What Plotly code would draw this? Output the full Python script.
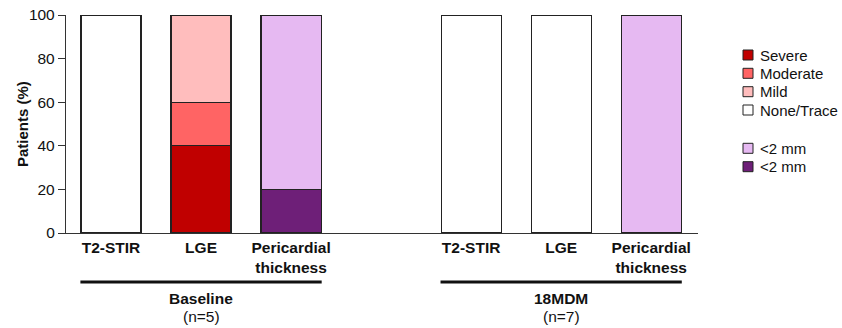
import plotly.graph_objects as go

# ---- data ----
positions = [0, 1, 2, 4, 5, 6]
tick_labels = ["T2-STIR", "LGE", "Pericardial<br>thickness",
               "T2-STIR", "LGE", "Pericardial<br>thickness"]
y_ticks = [0, 20, 40, 60, 80, 100]
y_title = "Patients (%)"
groups = ["Baseline", "18MDM"]
group_n = ["(n=5)", "(n=7)"]
group_centers = [1, 5]

# stacked series (bottom to top), values per position (None = no bar)
severe = [None, 40, None, None, None, None]
moderate = [None, 20, None, None, None, None]
mild = [None, 40, None, None, None, None]
none_trace = [100, None, None, 100, 100, None]
thick_dark = [None, None, 20, None, None, None]
thick_light = [None, None, 80, None, None, 100]

series = [
    ("Severe", severe, "#c00000"),
    ("Moderate", moderate, "#ff6464"),
    ("Mild", mild, "#ffbdbd"),
    ("None/Trace", none_trace, "#ffffff"),
    ("<2 mm ", thick_dark, "#6e1f78"),
    ("<2 mm", thick_light, "#e6b9f2"),
]
legend_order = ["Severe", "Moderate", "Mild", "None/Trace", "<2 mm", "<2 mm "]

FONT = "Liberation Sans, Arial, sans-serif"
FS = 15.5

fig = go.Figure()
for name, vals, color in series:
    fig.add_trace(go.Bar(
        x=positions, y=vals, name=name, width=0.667,
        marker=dict(color=color, line=dict(color="#222222", width=1.2)),
        showlegend=False,
    ))

fig.update_layout(
    barmode="stack",
    width=842, height=328,
    margin=dict(l=66, r=144, t=15, b=95),
    paper_bgcolor="white", plot_bgcolor="white",
    font=dict(family=FONT, size=FS, color="#111111"),
    xaxis=dict(
        range=[-0.5, 6.52], tickmode="array", tickvals=positions,
        ticktext=["<b>%s</b>" % t for t in tick_labels],
        showline=True, linecolor="#333333", linewidth=1.3,
        ticks="", showgrid=False, zeroline=False, automargin=False,
        ticklabeloverflow="allow",
        tickfont=dict(size=FS, family=FONT, color="#111111"),
    ),
    yaxis=dict(
        range=[0, 100], tickvals=y_ticks,
        showline=True, linecolor="#333333", linewidth=1.3,
        ticks="outside", ticklen=7, tickcolor="#333333", tickwidth=1.3,
        showgrid=False, zeroline=False, automargin=False,
        ticklabeloverflow="allow",
        tickfont=dict(size=FS, family=FONT, color="#111111"),
    ),
)

# pixel -> paper coordinate helpers
plot_left, plot_w = 66, 632
plot_top, plot_h = 15, 218
def px_to_paper(px, py):
    return (px - plot_left) / plot_w, (plot_top + plot_h - py) / plot_h

# y axis title
tx, ty = px_to_paper(22, 124)
fig.add_annotation(x=tx, y=ty, xref="paper", yref="paper", text="<b>%s</b>" % y_title,
                   textangle=-90, showarrow=False, xanchor="center", yanchor="middle",
                   font=dict(size=15, family=FONT, color="#111111"))

# group brackets and labels
for gc, g, n in zip(group_centers, groups, group_n):
    _, ly = px_to_paper(0, 282)
    fig.add_shape(type="line", xref="x", yref="paper",
                  x0=gc - 1.34, x1=gc + 1.34, y0=ly, y1=ly,
                  line=dict(color="#111111", width=3))
    _, gy = px_to_paper(0, 298)
    fig.add_annotation(x=gc, xref="x", y=gy, yref="paper", text="<b>%s</b>" % g,
                       showarrow=False, yanchor="middle",
                       font=dict(size=FS, family=FONT, color="#111111"))
    _, ny = px_to_paper(0, 316)
    fig.add_annotation(x=gc, xref="x", y=ny, yref="paper", text=n,
                       showarrow=False, yanchor="middle",
                       font=dict(size=FS, family=FONT, color="#111111"))

# manual legend
legend_y = {"Severe": 55, "Moderate": 73.3, "Mild": 91.7, "None/Trace": 110,
            "<2 mm": 148.3, "<2 mm ": 166.7}
color_of = {name: color for name, _, color in series}
for name in legend_order:
    py = legend_y[name]
    x0, y0 = px_to_paper(743, py + 5)
    x1, y1 = px_to_paper(753, py - 5)
    fig.add_shape(type="rect", xref="paper", yref="paper", x0=x0, x1=x1, y0=y0, y1=y1,
                  fillcolor=color_of[name], line=dict(color="#222222", width=1))
    lx, lyy = px_to_paper(758, py)
    fig.add_annotation(x=lx, y=lyy, xref="paper", yref="paper",
                       text=name.strip().replace("<", "&lt;"),
                       showarrow=False, xanchor="left", yanchor="middle",
                       font=dict(size=15, family=FONT, color="#111111"))

# remove the default page margin so the figure sits at the window's corner
fig.write_html("out.html", config={"displayModeBar": False},
               post_script="document.body.style.margin='0';")
